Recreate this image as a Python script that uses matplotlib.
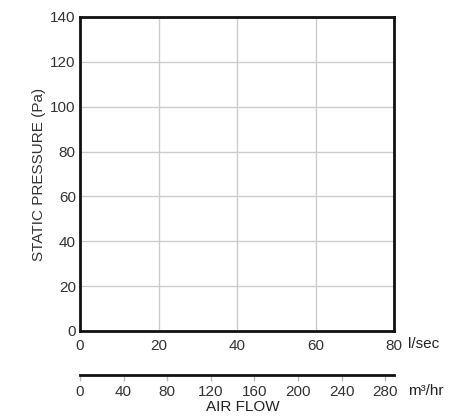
import matplotlib.pyplot as plt

plt.rcParams['font.family'] = ['Liberation Sans', 'DejaVu Sans']

# axis ranges and ticks
lsec_ticks = [0, 20, 40, 60, 80]
pressure_ticks = [0, 20, 40, 60, 80, 100, 120, 140]
m3hr_ticks = [0, 40, 80, 120, 160, 200, 240, 280]
LSEC_TO_M3HR = 3.6

fig = plt.figure(figsize=(4.62, 4.16), dpi=100)
fig.subplots_adjust(left=80/462, right=394/462, top=1-17/416, bottom=1-331/416)
ax = fig.add_subplot(111)

ax.set_xlim(0, 80)
ax.set_ylim(0, 140)
ax.set_xticks(lsec_ticks)
ax.set_yticks(pressure_ticks)
ax.grid(True, color='#cccccc', linewidth=1)
ax.set_axisbelow(True)
for s in ax.spines.values():
    s.set_linewidth(2)
    s.set_color('#111111')
ax.tick_params(axis='both', length=0, labelsize=11, labelcolor='#333333')
ax.tick_params(axis='x', pad=6)
ax.tick_params(axis='y', pad=3)

ax.set_ylabel('STATIC PRESSURE (Pa)', fontsize=11, color='#333333', labelpad=3)

# second flow scale in m3/hr
sec = ax.secondary_xaxis(-0.14, functions=(lambda x: x * LSEC_TO_M3HR,
                                           lambda x: x / LSEC_TO_M3HR))
sec.set_xticks(m3hr_ticks)
sec.spines['bottom'].set_linewidth(2)
sec.spines['bottom'].set_color('#111111')
sec.tick_params(axis='x', direction='out', length=4, width=1, color='#bbbbbb',
                labelsize=11, labelcolor='#333333', pad=3)

fig.text(408/462, 1-344/416, 'l/sec', fontsize=11, color='#222222', va='center', ha='left')
fig.text(408/462, 1-391/416, 'm³/hr', fontsize=11, color='#222222', va='center', ha='left')
fig.text(243/462, 1-407/416, 'AIR FLOW', fontsize=11, color='#222222', va='center', ha='center')

plt.savefig('out.png', dpi=100)
